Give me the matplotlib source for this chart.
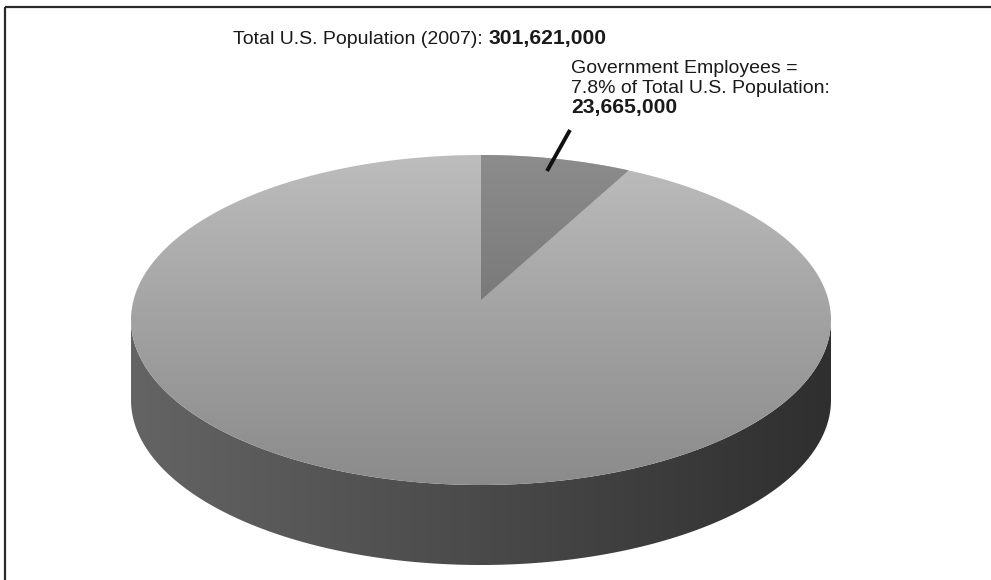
"""3D-style pie: government employees as share of total U.S. population (2007)."""
import numpy as np
import matplotlib.pyplot as plt
from matplotlib.patches import Polygon
from matplotlib.colors import LinearSegmentedColormap

# data
year = 2007
total_pop = 301_621_000
gov_emp = 23_665_000
slice_labels = ['Government Employees', 'Everyone else']
slice_values = [gov_emp, total_pop - gov_emp]

W, H = 991, 580
FONT = 'Liberation Sans'

fig = plt.figure(figsize=(W / 100, H / 100), dpi=100)
ax = fig.add_axes([0, 0, 1, 1])

# pie geometry (pixel space, y down)
cx, cy, a, b, depth = 481, 320, 350, 165, 80
px, py = cx, cy - 20  # projected pie centre sits above the ellipse centre


def rim(t, dy=0):
    # t clockwise from 12 o'clock
    return np.column_stack([cx + a * np.sin(t), cy - b * np.cos(t) + dy])


def rim_from_apex(t):
    # cast a ray from the projected centre, hit the top ellipse
    dx, dy = a * np.sin(t), -b * np.cos(t)
    ox, oy = px - cx, py - cy
    A = (dx / a) ** 2 + (dy / b) ** 2
    B = 2 * (ox * dx / a ** 2 + oy * dy / b ** 2)
    C = (ox / a) ** 2 + (oy / b) ** 2 - 1
    s = (-B + np.sqrt(B ** 2 - 4 * A * C)) / (2 * A)
    return np.column_stack([px + s * dx, py + s * dy])


def grad_fill(poly, cmap, vertical=True):
    patch = Polygon(poly, closed=True, facecolor='none', edgecolor='none')
    ax.add_patch(patch)
    g = np.linspace(0, 1, 256)
    g = g.reshape(-1, 1) if vertical else g.reshape(1, -1)
    x0, y0 = poly.min(axis=0)
    x1, y1 = poly.max(axis=0)
    im = ax.imshow(g, cmap=cmap, extent=[x0, x1, y1, y0], aspect='auto',
                   interpolation='bilinear', origin='upper')
    im.set_clip_path(patch)


top_cmap = LinearSegmentedColormap.from_list('top', ['#bdbdbd', '#a2a2a2', '#8b8b8b'])
gov_cmap = LinearSegmentedColormap.from_list('gov', ['#8c8c8c', '#7a7a7a'])
side_cmap = LinearSegmentedColormap.from_list('side', ['#646464', '#4a4a4a', '#2f2f2f'])

# side wall (front half)
t_front = np.linspace(np.pi / 2, 3 * np.pi / 2, 300)
side = np.vstack([rim(t_front), rim(t_front[::-1], depth)])
grad_fill(side, side_cmap, vertical=False)

# top face
t_all = np.linspace(0, 2 * np.pi, 600)
grad_fill(rim(t_all), top_cmap)

# highlighted slice, angle from the data
frac = np.cumsum([0] + slice_values) / sum(slice_values)
t_gov = np.linspace(2 * np.pi * frac[0], 2 * np.pi * frac[1], 60)
wedge = np.vstack([[(px, py)], rim_from_apex(t_gov)])
grad_fill(wedge, gov_cmap)

# frame lines (top and left only)
ax.plot([5, W], [7, 7], color='#2a2a2a', lw=1.6, solid_capstyle='butt')
ax.plot([5, 5], [7, H], color='#2a2a2a', lw=1.6, solid_capstyle='butt')

# titles
t1 = ax.text(233, 44, f'Total U.S. Population ({year}): ', fontsize=14,
             family=FONT, color='#1a1a1a', va='baseline', ha='left')
ax.annotate(f'{total_pop:,}', xy=(1, 0), xycoords=t1, va='bottom', ha='left',
            fontsize=15.2, family=FONT, fontweight='bold', color='#1a1a1a')

pct = 100 * gov_emp / total_pop
ax.text(571, 73, 'Government Employees =', fontsize=14, family=FONT,
        color='#1a1a1a', va='baseline')
ax.text(571, 93, f'{pct:.1f}% of Total U.S. Population:', fontsize=14,
        family=FONT, color='#1a1a1a', va='baseline')
ax.text(571, 113, f'{gov_emp:,}', fontsize=15.2, family=FONT, fontweight='bold',
        color='#1a1a1a', va='baseline')
ax.plot([570, 547], [130, 171], color='#111', lw=2.8, solid_capstyle='butt')

ax.set_xlim(0, W)
ax.set_ylim(H, 0)
ax.axis('off')
fig.savefig('out.png', dpi=100)
